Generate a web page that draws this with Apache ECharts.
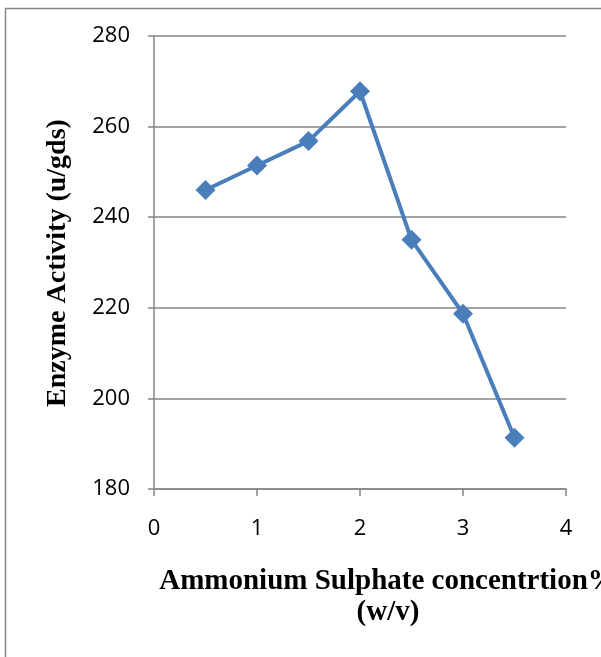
<!DOCTYPE html>
<html><head><meta charset="utf-8">
<script src="https://cdn.jsdelivr.net/npm/echarts@6/dist/echarts.min.js"></script>
<style>html,body{margin:0;padding:0;background:#fff}#c{width:601px;height:657px}</style>
</head><body><div id="c"></div>
<script>
const xValues = [0.5, 1, 1.5, 2, 2.5, 3, 3.5];
const activity = [246.0, 251.4, 256.8, 267.8, 235.0, 218.7, 191.3];
const xTitle = 'Ammonium Sulphate concentrtion%\n(w/v)';
const yTitle = 'Enzyme Activity (u/gds)';

const chart = echarts.init(document.getElementById('c'), null, {renderer: 'canvas'});
const gray = '#868686';
chart.setOption({
  animation: false,
  backgroundColor: '#fff',
  grid: {left: 154, top: 36, width: 412, height: 453},
  xAxis: {
    type: 'value', min: 0, max: 4, interval: 1,
    axisLine: {show: true, lineStyle: {color: gray, width: 1.5}},
    axisTick: {show: true, length: 7, lineStyle: {color: gray, width: 1.5}},
    axisLabel: {color: '#000', fontFamily: 'Open Sans', fontSize: 22, margin: 29},
    splitLine: {show: false}
  },
  yAxis: {
    type: 'value', min: 180, max: 280, interval: 20,
    axisLine: {show: true, lineStyle: {color: gray, width: 1.5}},
    axisTick: {show: true, length: 6, lineStyle: {color: gray, width: 1.5}},
    axisLabel: {color: '#000', fontFamily: 'Open Sans', fontSize: 22, margin: 24},
    splitLine: {show: true, lineStyle: {color: gray, width: 1.5}}
  },
  graphic: [
    {type: 'rect', shape: {x: 5.5, y: 8.5, width: 700, height: 700}, style: {fill: null, stroke: gray, lineWidth: 1.5}, z: -1},
    {type: 'text', x: 388, y: 597, style: {text: xTitle, font: 'bold 29px "Liberation Serif"', fill: '#000', textAlign: 'center', textVerticalAlign: 'middle', lineHeight: 31}},
    {type: 'text', x: 58, y: 263, rotation: Math.PI / 2, style: {text: yTitle, font: 'bold 28px "Liberation Serif"', fill: '#000', textAlign: 'center', textVerticalAlign: 'middle'}}
  ],
  series: [{
    type: 'line',
    data: xValues.map((x, i) => [x, activity[i]]),
    symbol: 'diamond', symbolSize: 20,
    lineStyle: {color: '#4A7EBB', width: 4},
    itemStyle: {color: '#4A7EBB'}
  }]
});
</script></body></html>
